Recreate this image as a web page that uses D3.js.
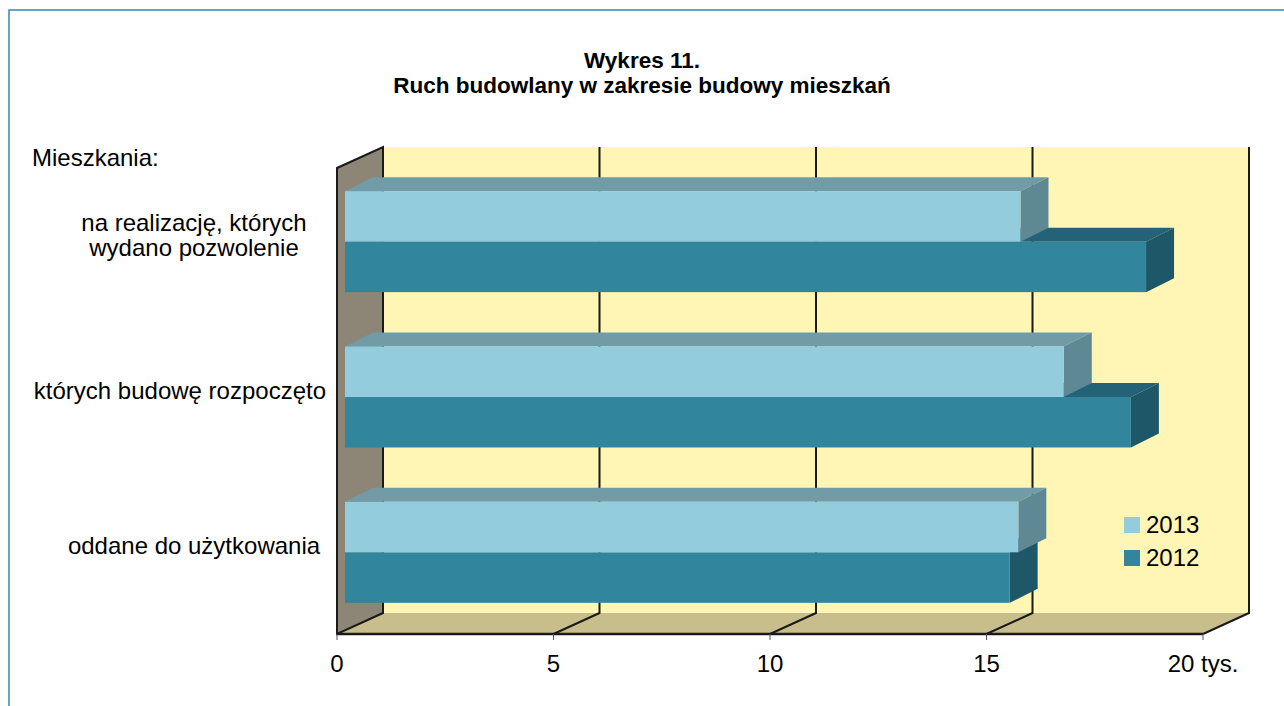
<!DOCTYPE html>
<html>
<head>
    <meta charset="utf-8">
    <title>Wykres 11. Ruch budowlany w zakresie budowy mieszkań</title>
    <script src="https://d3js.org/d3.v7.min.js"></script>
    <style>
        body { margin: 0; background: white; }
        text { font-family: "Liberation Sans", Arial, sans-serif; fill: #000; }
        .title { font-weight: bold; font-size: 22.5px; }
        .label { font-size: 24px; }
        .tick-label { font-size: 24px; }
        .edge { stroke: #1a1a1a; stroke-width: 2px; fill: none; }
    </style>
</head>
<body>
    <svg width="1284" height="706"></svg>
    <script>
        // Data
        const categories = ["na realizację, których\nwydano pozwolenie", "których budowę rozpoczęto", "oddane do użytkowania"];
        const seriesNames = ["2013", "2012"];
        const values2013 = [15.6, 16.6, 15.55];
        const values2012 = [18.5, 18.15, 15.35];
        const tickValues = [0, 5, 10, 15, 20];
        const tickLabels = ["0", "5", "10", "15", "20 tys."];
        const titleLines = ["Wykres 11.", "Ruch budowlany w zakresie budowy mieszkań"];

        const colors = {
            "2013": { front: "#93cddd", top: "#719ca7", side: "#5e8893" },
            "2012": { front: "#31859c", top: "#246377", side: "#1e5767" }
        };

        const svg = d3.select("svg");

        // Outer frame (top and left sides only are visible)
        svg.append("path")
            .attr("d", "M9,706 L9,10 L1284,10")
            .attr("fill", "none")
            .attr("stroke", "#2f8ab3")
            .attr("stroke-width", 1.5);

        // Title, one text per line
        svg.append("g").selectAll("text")
            .data(titleLines)
            .enter().append("text")
            .attr("class", "title")
            .attr("text-anchor", "middle")
            .attr("x", 642)
            .attr("y", (d, i) => 68 + i * 25)
            .text(d => d);

        // 3D geometry
        const floorY = 634, topY = 168;
        const depthX = 46, depthY = 21;      // wall depth
        const barOffX = 8, barOffY = 4;      // bar front plane
        const barDepthX = 28, barDepthY = 14;

        const x = d3.scaleLinear().domain([0, 20]).range([337, 1203]);
        const y = d3.scaleBand()
            .domain(categories)
            .range([topY - barOffY, floorY - barOffY])
            .paddingInner(0.35)
            .paddingOuter(0.175);
        const ySeries = d3.scaleBand().domain(seriesNames).range([0, y.bandwidth()]);

        const xl = x(0), xr = x(20);

        // Back wall
        svg.append("rect")
            .attr("x", xl + depthX).attr("y", topY - depthY)
            .attr("width", xr - xl).attr("height", floorY - topY)
            .attr("fill", "#fff5b5");

        // Floor
        svg.append("path")
            .attr("d", `M${xl},${floorY} L${xr},${floorY} L${xr + depthX},${floorY - depthY} L${xl + depthX},${floorY - depthY} Z`)
            .attr("fill", "#c8be8b");

        // Left side wall
        svg.append("path")
            .attr("d", `M${xl},${floorY} L${xl},${topY} L${xl + depthX},${topY - depthY} L${xl + depthX},${floorY - depthY} Z`)
            .attr("class", "edge")
            .style("fill", "#8d8576");

        // Gridlines on back wall and floor
        svg.append("g").selectAll("path")
            .data(tickValues.slice(1))
            .enter().append("path")
            .attr("class", "edge")
            .attr("d", d => `M${x(d) + depthX},${topY - depthY} L${x(d) + depthX},${floorY - depthY} L${x(d)},${floorY}`);

        // Front floor edge
        svg.append("line")
            .attr("class", "edge")
            .attr("x1", xl).attr("x2", xr)
            .attr("y1", floorY).attr("y2", floorY)
            .style("stroke-width", "2.5px");

        // Axis ticks and labels
        const ticks = svg.append("g");
        ticks.selectAll("line")
            .data(tickValues)
            .enter().append("line")
            .attr("x1", d => x(d)).attr("x2", d => x(d))
            .attr("y1", floorY).attr("y2", floorY + 6)
            .attr("stroke", "#555").attr("stroke-width", 1);
        ticks.selectAll("text")
            .data(tickValues)
            .enter().append("text")
            .attr("class", "tick-label")
            .attr("text-anchor", "middle")
            .attr("x", d => x(d))
            .attr("y", 672)
            .text((d, i) => tickLabels[i]);

        // Bars
        const barData = [];
        categories.forEach((c, i) => {
            // 2012 drawn first so 2013 sits on top of its hidden top face
            barData.push({ cat: c, series: "2012", value: values2012[i] });
            barData.push({ cat: c, series: "2013", value: values2013[i] });
        });

        const bars = svg.append("g").selectAll("g")
            .data(barData)
            .enter().append("g");

        bars.each(function(d) {
            const g = d3.select(this);
            const x0 = x(0) + barOffX;
            const x1 = x(d.value) + barOffX;
            const y0 = y(d.cat) + ySeries(d.series);
            const y1 = y0 + ySeries.bandwidth();
            const col = colors[d.series];
            // top face
            g.append("path")
                .attr("d", `M${x0},${y0} L${x1},${y0} L${x1 + barDepthX},${y0 - barDepthY} L${x0 + barDepthX},${y0 - barDepthY} Z`)
                .attr("fill", col.top);
            // side face
            g.append("path")
                .attr("d", `M${x1},${y0} L${x1 + barDepthX},${y0 - barDepthY} L${x1 + barDepthX},${y1 - barDepthY} L${x1},${y1} Z`)
                .attr("fill", col.side);
            // front face
            g.append("rect")
                .attr("x", x0).attr("y", y0)
                .attr("width", x1 - x0).attr("height", y1 - y0)
                .attr("fill", col.front);
        });

        // Category labels
        svg.append("text")
            .attr("class", "label")
            .attr("x", 32).attr("y", 166)
            .text("Mieszkania:");

        const labels = svg.append("g").selectAll("text")
            .data(categories)
            .enter().append("text")
            .attr("class", "label")
            .attr("text-anchor", "middle");

        labels.each(function(d) {
            const t = d3.select(this);
            const lines = d.split("\n");
            const cy = y(d) + y.bandwidth() / 2;
            lines.forEach((line, i) => {
                const ts = t.append("tspan")
                    .attr("y", cy + (i - (lines.length - 1) / 2) * 25 + 2)
                    .text(line);
                const w = ts.node().getComputedTextLength();
                ts.attr("x", Math.min(194, 326 - w / 2));
            });
        });

        // Legend
        const legend = svg.append("g").selectAll("g")
            .data(seriesNames)
            .enter().append("g")
            .attr("transform", (d, i) => `translate(1124,${517 + i * 33})`);
        legend.append("rect")
            .attr("width", 16).attr("height", 16)
            .attr("fill", d => colors[d].front);
        legend.append("text")
            .attr("class", "label")
            .attr("x", 22).attr("y", 16)
            .text(d => d);
    </script>
</body>
</html>
